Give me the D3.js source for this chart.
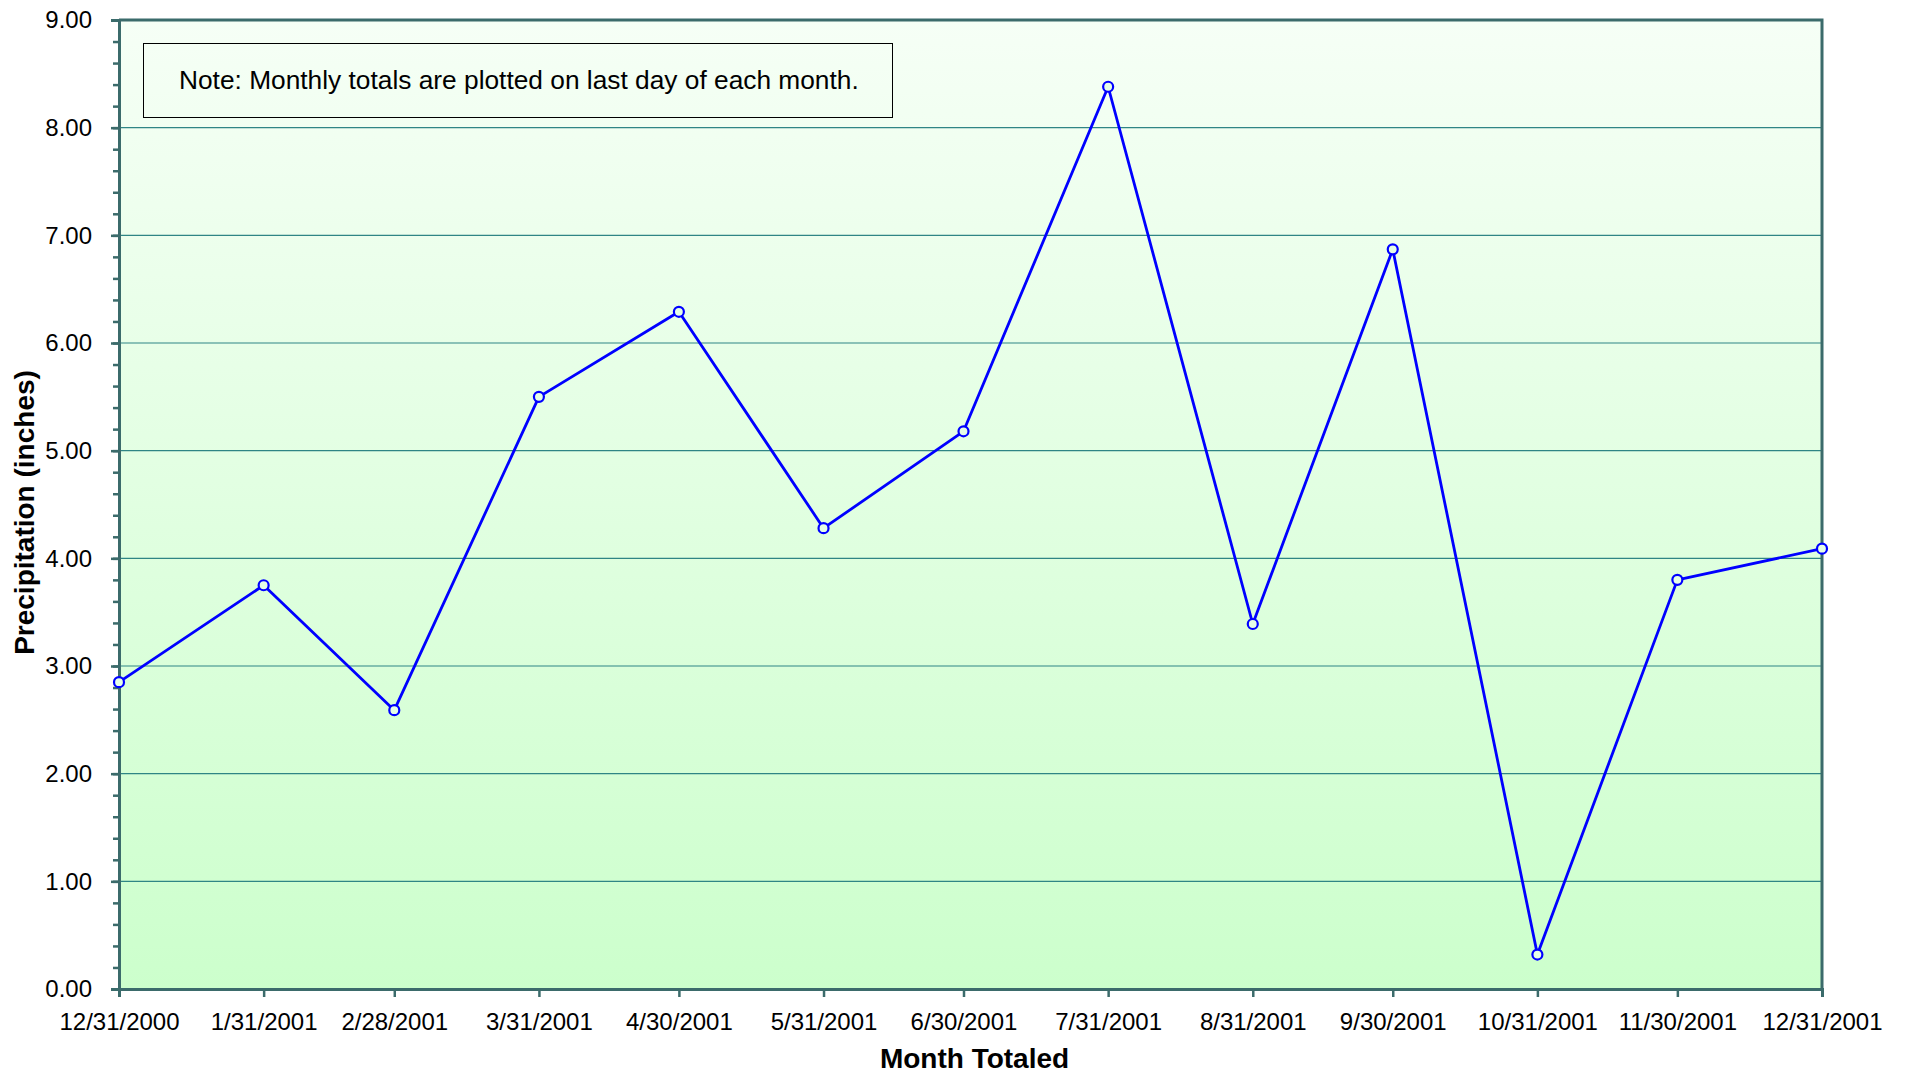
<!DOCTYPE html>
<html>
<head>
<meta charset="utf-8">
<script src="https://cdn.jsdelivr.net/npm/d3@7"></script>
<style>
  html, body { margin: 0; padding: 0; background: #ffffff; }
  #chart { width: 1906px; height: 1074px; }
  text { font-family: "Liberation Sans", Arial, Helvetica, sans-serif; fill: #000; }
</style>
</head>
<body>
<div id="chart"></div>
<script>
// Monthly precipitation totals, plotted on last day of each month
const monthEnds = ["12/31/2000", "1/31/2001", "2/28/2001", "3/31/2001", "4/30/2001", "5/31/2001",
    "6/30/2001", "7/31/2001", "8/31/2001", "9/30/2001", "10/31/2001", "11/30/2001", "12/31/2001"];
const precipValues = [2.85, 3.75, 2.59, 5.50, 6.29, 4.28, 5.18, 8.38, 3.39, 6.87, 0.32, 3.80, 4.09];
const yTicks = [0, 1, 2, 3, 4, 5, 6, 7, 8, 9];
const yMinorTicks = d3.range(0, 9.001, 0.2);
const noteText = "Note: Monthly totals are plotted on last day of each month.";

const width = 1906, height = 1074;
const margin = { top: 20, right: 84, bottom: 85, left: 119 };

const parse = d3.timeParse("%m/%d/%Y");
const dates = monthEnds.map(parse);
const data = dates.map((d, i) => ({ date: d, value: precipValues[i] }));

const svg = d3.select("#chart").append("svg")
    .attr("width", width)
    .attr("height", height)
    .attr("viewBox", `0 0 ${width} ${height}`);

// Background gradient (light mint at top, pale green at bottom)
const defs = svg.append("defs");
const grad = defs.append("linearGradient")
    .attr("id", "bg")
    .attr("x1", 0).attr("y1", 0).attr("x2", 0).attr("y2", 1);
grad.append("stop").attr("offset", "0%").attr("stop-color", "#f6fff6");
grad.append("stop").attr("offset", "100%").attr("stop-color", "#ccffcc");

const x = d3.scaleTime()
    .domain(d3.extent(dates))
    .range([margin.left, width - margin.right]);

const y = d3.scaleLinear()
    .domain([0, 9])
    .range([height - margin.bottom, margin.top]);

svg.append("rect")
    .attr("x", margin.left)
    .attr("y", margin.top)
    .attr("width", width - margin.left - margin.right)
    .attr("height", height - margin.top - margin.bottom)
    .attr("fill", "url(#bg)");

// Grid lines
svg.append("g")
    .selectAll("line")
    .data(yTicks.filter(d => d > 0 && d < 9))
    .join("line")
    .attr("x1", margin.left)
    .attr("x2", width - margin.right)
    .attr("y1", d => y(d))
    .attr("y2", d => y(d))
    .attr("stroke", "#2f8585")
    .attr("stroke-width", 1.2);

// Plot frame (top and right)
svg.append("path")
    .attr("d", `M${margin.left},${margin.top}H${width - margin.right}V${height - margin.bottom}`)
    .attr("fill", "none")
    .attr("stroke", "#3b6b6b")
    .attr("stroke-width", 3);

// Note box
const note = svg.append("g");
note.append("rect")
    .attr("x", 143.5)
    .attr("y", 43.5)
    .attr("width", 749)
    .attr("height", 74)
    .attr("fill", "none")
    .attr("stroke", "#000")
    .attr("stroke-width", 1);
note.append("text")
    .attr("x", 179)
    .attr("y", 89)
    .style("font-size", "26.3px")
    .text(noteText);

// Y axis minor ticks
svg.append("g")
    .attr("transform", `translate(${margin.left},0)`)
    .call(d3.axisLeft(y).tickValues(yMinorTicks).tickSize(6).tickFormat(""))
    .call(g => g.select(".domain").remove())
    .selectAll("line")
    .attr("stroke", "#3b6b6b")
    .attr("stroke-width", 2.5);

// Y axis major ticks + labels
const yAxis = svg.append("g")
    .attr("transform", `translate(${margin.left},0)`)
    .call(d3.axisLeft(y).tickValues(yTicks).tickSize(8).tickPadding(19).tickFormat(d3.format(".2f")));
yAxis.select(".domain").attr("stroke", "#3b6b6b").attr("stroke-width", 3);
yAxis.selectAll(".tick line").attr("stroke", "#3b6b6b").attr("stroke-width", 2.5);
yAxis.selectAll("text")
    .style("font-size", "24px")
    .style("font-family", "'Liberation Sans', Arial, sans-serif")
    .attr("fill", "#000");

// X axis
const xAxis = svg.append("g")
    .attr("transform", `translate(0,${height - margin.bottom})`)
    .call(d3.axisBottom(x).tickValues(dates).tickSize(8).tickPadding(16).tickFormat(d3.timeFormat("%-m/%-d/%Y")));
xAxis.select(".domain").attr("stroke", "#3b6b6b").attr("stroke-width", 3);
xAxis.selectAll(".tick line").attr("stroke", "#3b6b6b").attr("stroke-width", 2.5);
xAxis.selectAll("text")
    .style("font-size", "24px")
    .style("font-family", "'Liberation Sans', Arial, sans-serif")
    .attr("fill", "#000");

// Axis titles
svg.append("text")
    .attr("x", (margin.left + width - margin.right) / 2 + 4)
    .attr("y", 1068)
    .attr("text-anchor", "middle")
    .style("font-size", "28px")
    .style("font-weight", "bold")
    .text("Month Totaled");

svg.append("text")
    .attr("transform", `translate(34,${(margin.top + height - margin.bottom) / 2 + 8}) rotate(-90)`)
    .attr("text-anchor", "middle")
    .style("font-size", "28px")
    .style("font-weight", "bold")
    .text("Precipitation (inches)");

// Line
const line = d3.line()
    .x(d => x(d.date))
    .y(d => y(d.value));

svg.append("path")
    .datum(data)
    .attr("d", line)
    .attr("fill", "none")
    .attr("stroke", "#0000ff")
    .attr("stroke-width", 2.8)
    .attr("stroke-linejoin", "round");

// Markers (hollow circles)
svg.selectAll(".marker")
    .data(data)
    .join("circle")
    .attr("class", "marker")
    .attr("cx", d => x(d.date))
    .attr("cy", d => y(d.value))
    .attr("r", 5)
    .attr("fill", "#e6ffe6")
    .attr("stroke", "#0000ff")
    .attr("stroke-width", 2.2);
</script>
</body>
</html>
